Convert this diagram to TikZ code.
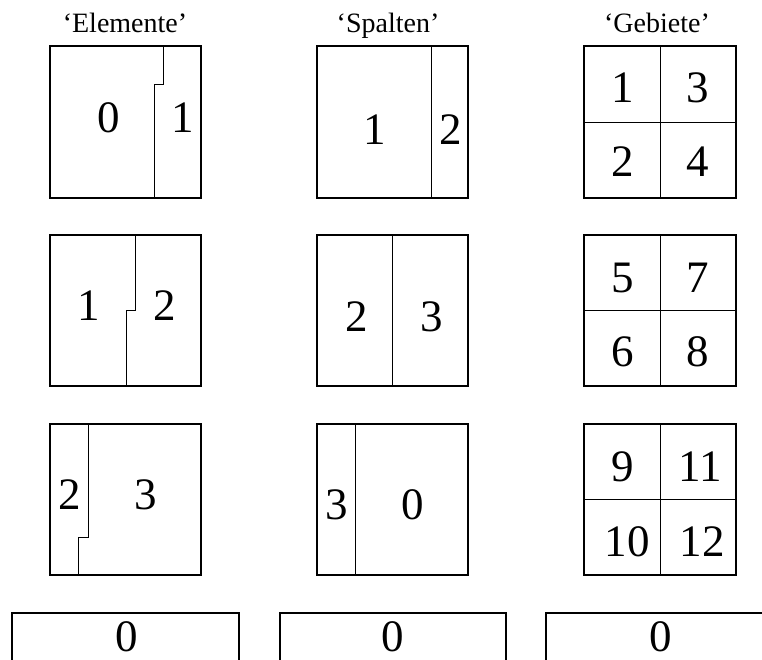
\documentclass[tikz,border=0pt]{standalone}
\usepackage{fontspec}
\setmainfont{Liberation Serif}
\begin{document}
\begin{tikzpicture}[x=1pt,y=-1pt,
  frame/.style={line width=1.5pt},
  divider/.style={line width=0.8pt},
  num/.style={inner sep=0pt,font=\fontsize{45}{47}\selectfont},
  title/.style={inner sep=0pt,anchor=base,font=\fontsize{28}{30}\selectfont}]
\useasboundingbox (0,0) rectangle (762,659);
\clip (0,0) rectangle (762,659);

% column headings
\node[title] (tE) at (125,32) {‘Elemente’};
\node[title] (tS) at (388,32) {‘Spalten’};
\node[title] (tG) at (657,32) {‘Gebiete’};

% ---- column 1: elements with stepped borders
\draw[frame] (50,46) rectangle (201,198);
\draw[divider] (163,46) -- (163,84) -- (154,84) -- (154,198);
\node[num] (e00) at (109,118) {0};
\node[num] (e01) at (183,118) {1};

\draw[frame] (50,235) rectangle (201,386);
\draw[divider] (135,235) -- (135,310) -- (126,310) -- (126,386);
\node[num] (e11) at (89,306) {1};
\node[num] (e12) at (165,306) {2};

\draw[frame] (50,424) rectangle (201,575);
\draw[divider] (88,424) -- (88,537) -- (78,537) -- (78,575);
\node[num] (e22) at (70,495) {2};
\node[num] (e23) at (146,495) {3};

% ---- column 2: straight columns
\draw[frame] (317,46) rectangle (468,198);
\draw[divider] (431,46) -- (431,198);
\node[num] (s01) at (375,130) {1};
\node[num] (s02) at (451,130) {2};

\draw[frame] (317,235) rectangle (468,386);
\draw[divider] (392,235) -- (392,386);
\node[num] (s12) at (357,317) {2};
\node[num] (s13) at (432,317) {3};

\draw[frame] (317,424) rectangle (468,575);
\draw[divider] (355,424) -- (355,575);
\node[num] (s23) at (337,505) {3};
\node[num] (s20) at (413,505) {0};

% ---- column 3: 2x2 regions
\draw[frame] (584,46) rectangle (736,198);
\draw[divider] (660,46) -- (660,198) (584,122) -- (736,122);
\node[num] (g1) at (623,88) {1};
\node[num] (g3) at (698,88) {3};
\node[num] (g2) at (623,162) {2};
\node[num] (g4) at (698,162) {4};

\draw[frame] (584,235) rectangle (736,386);
\draw[divider] (660,235) -- (660,386) (584,310) -- (736,310);
\node[num] (g5) at (623,278) {5};
\node[num] (g7) at (698,278) {7};
\node[num] (g6) at (623,352) {6};
\node[num] (g8) at (698,352) {8};

\draw[frame] (584,424) rectangle (736,575);
\draw[divider] (660,424) -- (660,575) (584,499) -- (736,499);
\node[num] (g9) at (623,467) {9};
\node[num] (g11) at (700,467) {11};
\node[num] (g10) at (627,542) {10};
\node[num] (g12) at (702,542) {12};

% ---- bottom boxes, cut off by the page edge
\draw[frame] (12,680) -- (12,613) -- (239,613) -- (239,680);
\draw[frame] (280,680) -- (280,613) -- (506,613) -- (506,680);
\draw[frame] (546,680) -- (546,613) -- (790,613);
\node[num] (b1) at (127,637) {0};
\node[num] (b2) at (393,637) {0};
\node[num] (b3) at (661,637) {0};
\end{tikzpicture}
\end{document}
